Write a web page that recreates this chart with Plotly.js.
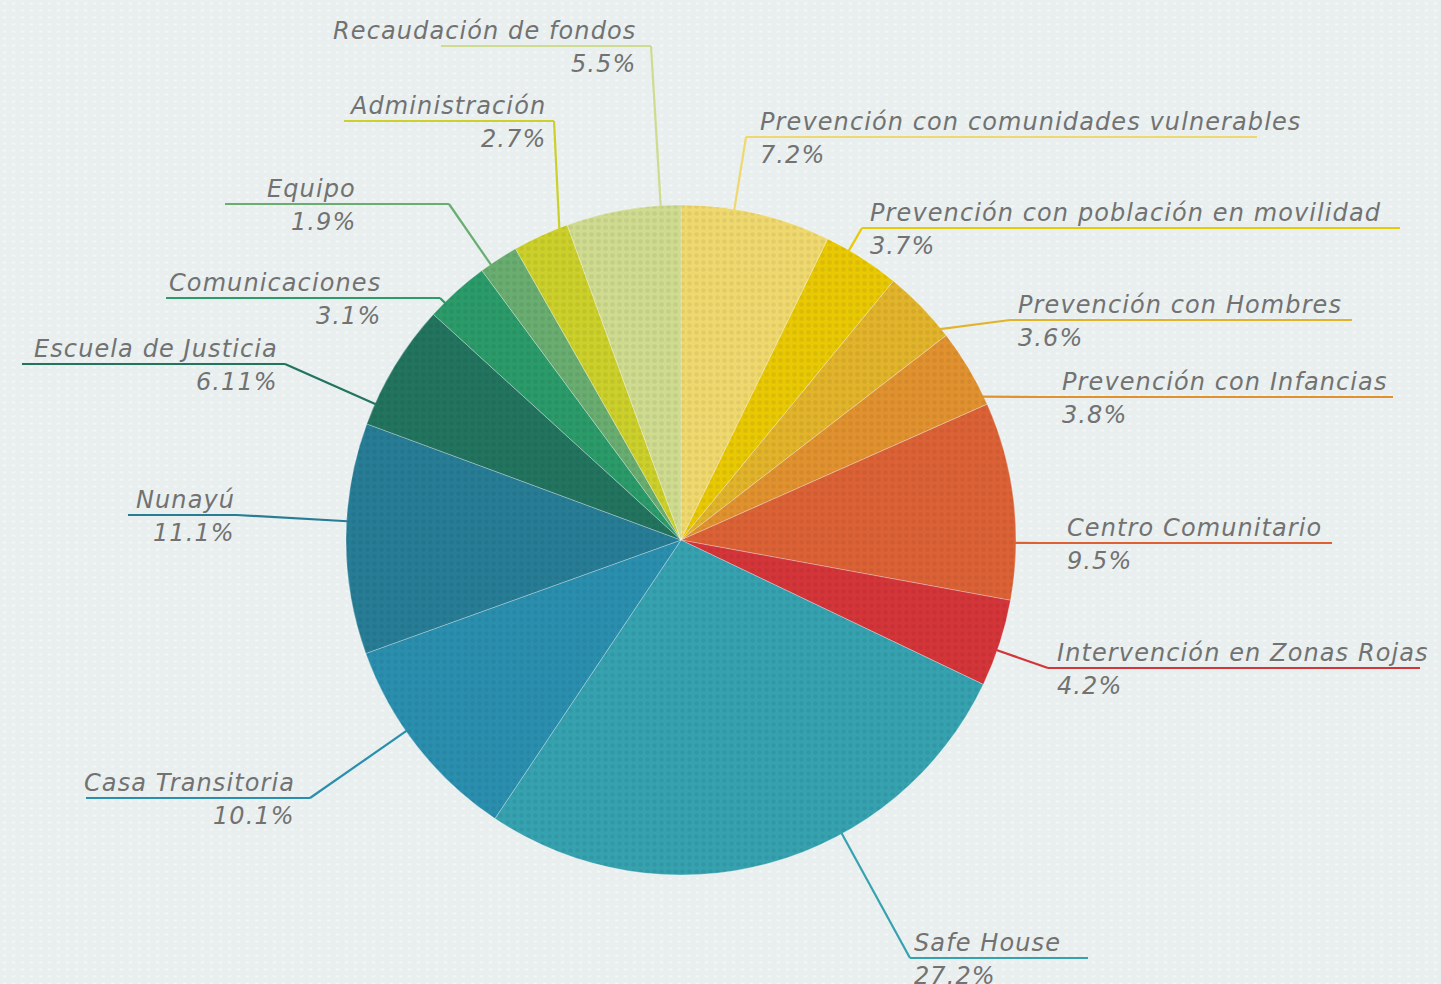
<!DOCTYPE html>
<html>
<head>
<meta charset="utf-8">
<script src="https://cdn.plot.ly/plotly-3.0.1.min.js"></script>
<style>
  html, body { margin: 0; padding: 0; }
  body {
    width: 1441px; height: 984px; overflow: hidden;
    background-color: #e8efee;
    background-image: radial-gradient(ellipse at center, rgba(255,255,255,0.55) 0px, rgba(255,255,255,0) 2.6px);
    background-size: 9px 7px;
  }
  #chart { width: 1441px; height: 984px; }
  .annotation-text { letter-spacing: 1.1px; }
</style>
</head>
<body>
<div id="chart"></div>
<script>
// ---- data ----
const categories = [
  "Prevención con comunidades vulnerables",
  "Prevención con población en movilidad",
  "Prevención con Hombres",
  "Prevención con Infancias",
  "Centro Comunitario",
  "Intervención en Zonas Rojas",
  "Safe House",
  "Casa Transitoria",
  "Nunayú",
  "Escuela de Justicia",
  "Comunicaciones",
  "Equipo",
  "Administración",
  "Recaudación de fondos"
];
const values = [7.2, 3.7, 3.6, 3.8, 9.5, 4.2, 27.2, 10.1, 11.1, 6.11, 3.1, 1.9, 2.7, 5.5];
const valueLabels = ["7.2%", "3.7%", "3.6%", "3.8%", "9.5%", "4.2%", "27.2%", "10.1%", "11.1%", "6.11%", "3.1%", "1.9%", "2.7%", "5.5%"];

// ---- style ----
const colors = ["#efd96f", "#e9c804", "#e2b42b", "#e1922f", "#dc6236", "#d43539", "#36a2b0",
                "#2a8fae", "#277d96", "#22745f", "#2b9b6a", "#69ad70", "#ccd02a", "#cfdb8f"];

// ---- layout of label callouts (pixels): side, text edge x, underline y, elbow x, far end x ----
const labelSide  = ["R","R","R","R","R","R","R","L","L","L","L","L","L","L"];
const labelTextX = [758, 868, 1016, 1060, 1065, 1055, 912, 297, 237, 280, 383, 358, 548, 638];
const labelLineY = [137, 228, 320, 397, 543, 668, 958, 798, 515, 364, 298, 204, 121, 46];
const labelElbowX= [746, 862, 1010, 1045, 1040, 1048, 910, 310, 237, 285, 440, 449, 554, 651];
const labelFarX  = [1257, 1400, 1352, 1393, 1332, 1420, 1088, 86, 128, 22, 166, 225, 344, 441];

const W = 1441, H = 984;
const CX = 681, CY = 540, R = 335;
const px = x => x / W;
const py = y => 1 - y / H;

const total = values.reduce((a, b) => a + b, 0);
const shapes = [];
const annotations = [];
const textColor = "#727272";
const fontFam = "'DejaVu Sans', sans-serif";
const fs = 24;

let cum = 0;
values.forEach((v, i) => {
  const a0 = cum / total * 360;
  cum += v;
  const a1 = cum / total * 360;
  const ex = labelElbowX[i], ey = labelLineY[i];
  let ang = Math.atan2(ex - CX, -(ey - CY)) * 180 / Math.PI;
  if (ang < 0) ang += 360;
  const margin = Math.min(1.5, (a1 - a0) / 4);
  ang = Math.max(a0 + margin, Math.min(a1 - margin, ang));
  const rad = ang * Math.PI / 180;
  const tx = CX + (R - 1) * Math.sin(rad);
  const ty = CY - (R - 1) * Math.cos(rad);
  const lineStyle = { color: colors[i], width: 2.2 };
  shapes.push({ type: "line", xref: "paper", yref: "paper",
    x0: px(tx), y0: py(ty), x1: px(ex), y1: py(ey), line: lineStyle });
  shapes.push({ type: "line", xref: "paper", yref: "paper",
    x0: px(ex), y0: py(ey), x1: px(labelFarX[i]), y1: py(ey), line: lineStyle });

  const right = labelSide[i] === "R";
  annotations.push({
    xref: "paper", yref: "paper", x: px(labelTextX[i]), y: py(ey),
    xanchor: right ? "left" : "right", yanchor: "bottom", yshift: -1,
    text: categories[i], showarrow: false,
    font: { family: fontFam, size: fs, color: textColor, style: "italic" }
  });
  annotations.push({
    xref: "paper", yref: "paper", x: px(labelTextX[i]), y: py(ey),
    xanchor: right ? "left" : "right", yanchor: "top", yshift: -2,
    text: valueLabels[i], showarrow: false,
    font: { family: fontFam, size: fs, color: textColor, style: "italic" }
  });
});

const trace = {
  type: "pie",
  labels: categories,
  values: values,
  sort: false,
  direction: "clockwise",
  rotation: 0,
  textinfo: "none",
  hoverinfo: "label+percent",
  showlegend: false,
  domain: { x: [px(CX - R), px(CX + R)], y: [py(CY + R), py(CY - R)] },
  marker: {
    colors: colors,
    line: { color: "rgba(255,255,255,0.35)", width: 0.8 },
    pattern: { shape: ".", bgcolor: colors, fgcolor: "rgba(0,0,0,0.06)", size: 7, solidity: 0.35 }
  }
};

const layout = {
  width: W, height: H,
  margin: { l: 0, r: 0, t: 0, b: 0, pad: 0 },
  paper_bgcolor: "rgba(0,0,0,0)",
  plot_bgcolor: "rgba(0,0,0,0)",
  showlegend: false,
  shapes: shapes,
  annotations: annotations
};

Plotly.newPlot("chart", [trace], layout, { displayModeBar: false, staticPlot: true });
</script>
</body>
</html>
